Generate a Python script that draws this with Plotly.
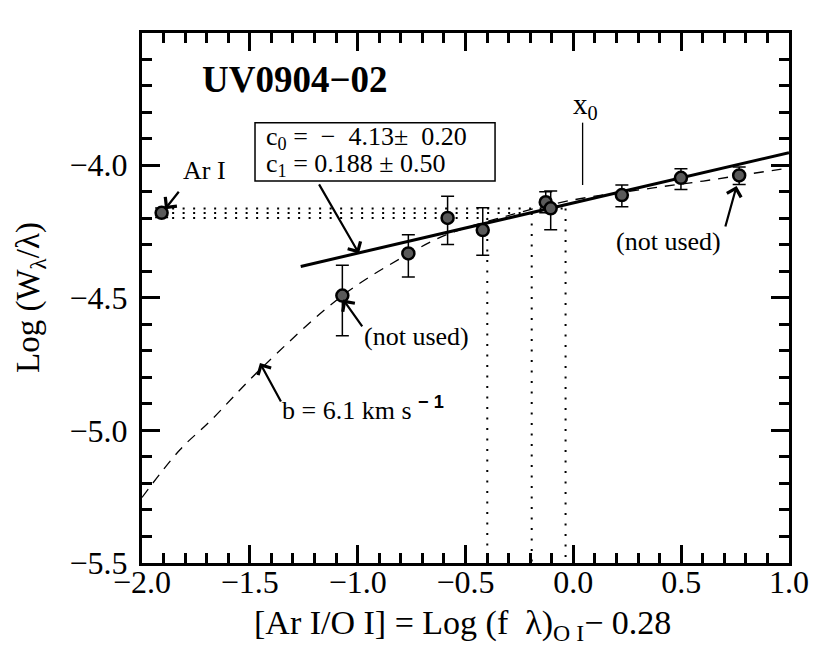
import plotly.graph_objects as go

# measured points: [Ar I/O I] vs Log(W/lambda)
pt_x = [-1.909, -1.071, -0.765, -0.583, -0.420, -0.128, -0.105, 0.225, 0.499, 0.769]
pt_y = [-4.180, -4.492, -4.333, -4.199, -4.245, -4.140, -4.163, -4.113, -4.048, -4.039]
err_up = [0.018, 0.114, 0.070, 0.082, 0.084, 0.040, 0.065, 0.038, 0.034, 0.032]
err_dn = [0.018, 0.151, 0.089, 0.100, 0.095, 0.040, 0.081, 0.044, 0.044, 0.034]

# linear fit (c0, c1)
fit_x = [-1.264, 1.0]
fit_y = [-4.382, -3.953]

# curve of growth, b = 6.1 km/s
cog_x = [-2.0, -1.824, -1.685, -1.453, -1.071, -0.767, -0.587, -0.340, -0.031, 0.370, 0.602, 0.958, 1.0]
cog_y = [-5.253, -5.073, -4.966, -4.771, -4.492, -4.336, -4.262, -4.199, -4.136, -4.086, -4.060, -4.016, -4.012]

# Ar I level (+/- error) projected onto the fit
ar_x = -1.909
ar_levels = [-4.164, -4.181, -4.199]
ar_proj = [-0.036, -0.193, -0.399]

x0_pos = 0.043
x0_seg = [-3.840, -4.075]

x_range = [-2.0, 1.0]
y_range = [-5.5, -3.502]

FONT = 'Liberation Serif'

fig = go.Figure()

dot = dict(color='black', width=2, dash='2px,8.5px')
for lev, xp in zip(ar_levels, ar_proj):
    fig.add_trace(go.Scatter(x=[ar_x, xp], y=[lev, lev], mode='lines',
                             line=dot, showlegend=False, hoverinfo='skip'))
    fig.add_trace(go.Scatter(x=[xp, xp], y=[lev, -5.5], mode='lines',
                             line=dot, showlegend=False, hoverinfo='skip'))

fig.add_trace(go.Scatter(x=cog_x, y=cog_y, mode='lines',
                         line=dict(color='black', width=1.3, dash='10px,8px', shape='spline'),
                         showlegend=False))
fig.add_trace(go.Scatter(x=fit_x, y=fit_y, mode='lines',
                         line=dict(color='black', width=3), showlegend=False))
fig.add_trace(go.Scatter(x=[x0_pos, x0_pos], y=x0_seg, mode='lines',
                         line=dict(color='black', width=1.3), showlegend=False))
fig.add_trace(go.Scatter(x=pt_x, y=pt_y, mode='markers',
                         marker=dict(size=12, color='#5a5a5a',
                                     line=dict(color='black', width=2.5)),
                         error_y=dict(type='data', symmetric=False,
                                      array=err_up, arrayminus=err_dn,
                                      color='black', thickness=1.5, width=6.5),
                         showlegend=False))

# empty traces carrying the tick-only axes
for ax in ['x2', 'x3', 'x4', 'x5']:
    fig.add_trace(go.Scatter(x=[None], y=[None], xaxis=ax, showlegend=False, hoverinfo='skip'))

# box around the fit coefficients
fig.add_shape(type='rect', x0=-1.476, x1=-0.363, y0=-3.840, y1=-4.060,
              xref='x', yref='y', line=dict(color='black', width=1.5),
              fillcolor='white', layer='above')

txt = dict(family=FONT, size=26, color='black')
fig.add_annotation(x=-1.434, y=-3.898, xanchor='left', yanchor='middle', showarrow=False,
                   text='c<sub>0</sub> =  \u2212  4.13\u00b1  0.20', font=txt)
fig.add_annotation(x=-1.434, y=-3.998, xanchor='left', yanchor='middle', showarrow=False,
                   text='c<sub>1</sub> = 0.188 \u00b1 0.50', font=txt)
fig.add_annotation(x=-1.731, y=-3.677, xanchor='left', yanchor='middle', showarrow=False,
                   text='<b>UV0904\u221202</b>', font=dict(family=FONT, size=37, color='black'))
fig.add_annotation(x=0.058, y=-3.777, showarrow=False, text='x<sub>0</sub>',
                   font=dict(family=FONT, size=29, color='black'))
fig.add_annotation(x=-1.708, y=-4.019, showarrow=False, text='Ar I', font=txt)
fig.add_annotation(x=-0.727, y=-4.645, showarrow=False, text='(not used)', font=txt)
fig.add_annotation(x=0.443, y=-4.287, showarrow=False, text='(not used)', font=txt)
fig.add_annotation(x=-1.360, y=-4.917, xanchor='left', showarrow=False,
                   text='b = 6.1 km s <sup><span style="font-family:Liberation Sans"><b>\u2212 1</b></span></sup>',
                   font=txt)

# arrows (head, tail)
arrows = [((-0.994, -4.333), (-1.183, -4.067)),
          ((-1.893, -4.166), (-1.824, -4.095)),
          ((-1.067, -4.507), (-0.974, -4.614)),
          ((0.757, -4.079), (0.703, -4.237)),
          ((-1.453, -4.746), (-1.352, -4.897))]
for (hx, hy), (tx, ty) in arrows:
    fig.add_annotation(x=hx, y=hy, ax=tx, ay=ty, xref='x', yref='y', axref='x', ayref='y',
                       text='', showarrow=True, arrowhead=4, arrowsize=1.3,
                       arrowwidth=2.2, arrowcolor='black')

# axis titles
fig.add_annotation(xref='paper', yref='paper', x=0, y=0.5, xshift=-112, textangle=-90,
                   xanchor='center', yanchor='middle',
                   showarrow=False, text='Log (W<sub>\u03bb</sub>/\u03bb)',
                   font=dict(family=FONT, size=33, color='black'))
fig.add_annotation(xref='paper', yref='paper', x=0.5, y=0, xshift=-3, yshift=-62,
                   yanchor='middle', showarrow=False,
                   text='[Ar I/O I] = Log (f  \u03bb)<sub>O I</sub>\u2212 0.28',
                   font=dict(family=FONT, size=34, color='black'))

tickfont = dict(family=FONT, size=32, color='black')
major_x = dict(ticks='inside', ticklen=18, tickwidth=2.5, tickcolor='black',
               tickmode='linear', tick0=0, dtick=0.5, showgrid=False, zeroline=False)
minor_x = dict(ticks='inside', ticklen=10, tickwidth=2.5, tickcolor='black',
               tickmode='linear', tick0=0, dtick=0.1, showgrid=False, zeroline=False)
overlay = dict(range=x_range, overlaying='x', anchor='y', showticklabels=False)

fig.update_layout(
    # bottom axis: line and labels only
    xaxis=dict(range=x_range, showline=True, linewidth=3, linecolor='black', mirror=False,
               ticks='outside', ticklen=1, tickwidth=1, tickcolor='rgba(0,0,0,0)',
               tickmode='linear', tick0=0, dtick=0.5, tickformat='.1f',
               showgrid=False, zeroline=False, tickfont=tickfont, ticklabelstandoff=-12,
               minor=dict(ticks='')),
    # tick marks on the top edge (major, minor) and bottom edge (major, minor)
    xaxis2=dict(side='top', showline=True, linewidth=3, linecolor='black', **overlay, **major_x),
    xaxis3=dict(side='top', showline=False, **overlay, **minor_x),
    xaxis4=dict(side='bottom', showline=False, **overlay, **major_x),
    xaxis5=dict(side='bottom', showline=False, **overlay, **minor_x),
    yaxis=dict(range=y_range, showline=True, linewidth=3, linecolor='black', mirror='ticks',
               ticks='inside', ticklen=18, tickwidth=2.5, tickcolor='black',
               tickmode='linear', tick0=0, dtick=0.5, showgrid=False, zeroline=False,
               tickformat='.1f', ticklabelstandoff=5, tickfont=tickfont,
               minor=dict(ticks='inside', ticklen=10, tickwidth=2.5,
                          tickcolor='black', dtick=0.1, showgrid=False)),
    width=830, height=664,
    margin=dict(l=134, r=49, t=25, b=109),
    plot_bgcolor='white', paper_bgcolor='white',
    font=dict(family=FONT, color='black'),
    showlegend=False)

fig.write_html('out.html')
